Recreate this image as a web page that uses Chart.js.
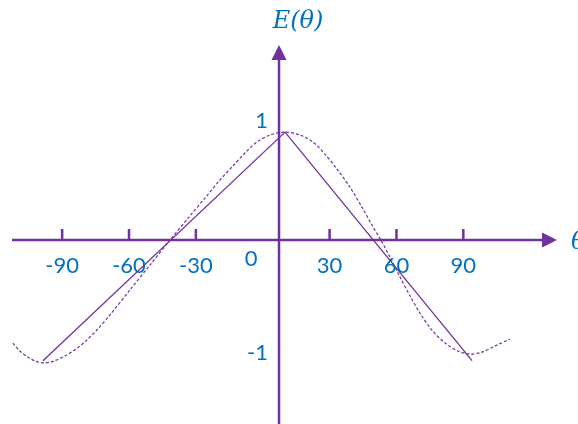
<!DOCTYPE html>
<html>
<head>
<meta charset="utf-8">
<script src="https://cdn.jsdelivr.net/npm/chart.js"></script>
<style>
  body { margin: 0; background: #fff; }
  #wrap { width: 578px; height: 424px; }
</style>
</head>
<body>
<div id="wrap"><canvas id="chart" width="578" height="424"></canvas></div>
<script>
// theta in degrees, E(theta)
const triangleTheta = [-98.6, 10.0, 93.9];
const triangleE = [-1.04, 0.93, -1.04];

const cosTheta = [-112.1, -109.0, -105.4, -102.2, -98.2, -93.7, -88.8, -83.8, -78.9, -74.0,
  -68.6, -59.6, -50.6, -41.6, -32.7, -25.9, -19.2, -13.4, -8.0, -2.6, 3.2, 10.0,
  16.7, 22.5, 27.9, 33.3, 39.1, 44.5, 49.0, 53.0, 57.1, 61.6, 66.1, 70.5, 75.9,
  81.8, 87.6, 93.0, 98.4, 104.2, 110.9];
const cosE = [-0.888, -0.957, -1.009, -1.043, -1.06, -1.043, -1.0, -0.94, -0.862, -0.767,
  -0.647, -0.431, -0.216, 0, 0.207, 0.362, 0.517, 0.638, 0.75, 0.845, 0.905, 0.931,
  0.905, 0.845, 0.741, 0.612, 0.457, 0.284, 0.129, 0, -0.147, -0.319, -0.483, -0.629, -0.776,
  -0.888, -0.957, -0.983, -0.966, -0.914, -0.853];

const xTickValues = [-90, -60, -30, 30, 60, 90];
const xTickLabels = ["-90", "-60", "-30", "30", "60", "90"];
const yTickValues = [1, -1];
const yTickLabels = ["1", "-1"];
const originLabel = "0";
const yAxisAt = 7.3; // the vertical axis sits a little right of 0 in the drawing

const PURPLE = "#7030A0";
const BLUE = "#0070C0";

const toPoints = (xs, ys) => xs.map((v, i) => ({ x: v, y: ys[i] }));

// axes with arrows, tick marks and all the text
const axesPlugin = {
  id: "axes",
  beforeDatasetsDraw(chart) {
    const { ctx, chartArea, scales: { x, y } } = chart;
    const x0 = x.getPixelForValue(yAxisAt);
    const y0 = y.getPixelForValue(0);
    ctx.save();
    ctx.strokeStyle = PURPLE;
    ctx.fillStyle = PURPLE;
    ctx.lineWidth = 2.5;
    ctx.beginPath();
    ctx.moveTo(chartArea.left, y0);
    ctx.lineTo(chartArea.right, y0);
    ctx.moveTo(x0, chartArea.bottom);
    ctx.lineTo(x0, chartArea.top);
    xTickValues.forEach((v) => {
      const px = x.getPixelForValue(v);
      ctx.moveTo(px, y0);
      ctx.lineTo(px, y0 - 11);
    });
    ctx.stroke();

    ctx.beginPath();
    ctx.moveTo(chartArea.right + 15, y0);
    ctx.lineTo(chartArea.right, y0 - 7.5);
    ctx.lineTo(chartArea.right, y0 + 7.5);
    ctx.closePath();
    ctx.moveTo(x0, chartArea.top - 15);
    ctx.lineTo(x0 - 7.5, chartArea.top);
    ctx.lineTo(x0 + 7.5, chartArea.top);
    ctx.closePath();
    ctx.fill();
    ctx.restore();
  },
  afterDraw(chart) {
    const { ctx, chartArea, scales: { x, y } } = chart;
    const x0 = x.getPixelForValue(yAxisAt);
    const y0 = y.getPixelForValue(0);
    ctx.save();
    ctx.fillStyle = BLUE;
    ctx.font = "22px Lato";
    ctx.textAlign = "center";
    ctx.textBaseline = "middle";
    xTickValues.forEach((v, i) => {
      ctx.fillText(xTickLabels[i], x.getPixelForValue(v), y0 + 26);
    });
    ctx.fillText(originLabel, x0 - 28, y0 + 19);

    ctx.textAlign = "right";
    yTickValues.forEach((v, i) => {
      ctx.fillText(yTickLabels[i], x0 - 11, y.getPixelForValue(v) - 3);
    });

    ctx.font = "italic 24px 'DejaVu Serif'";
    ctx.textAlign = "center";
    ctx.fillText("E(\u03B8)", x0 + 19, 22);
    ctx.textAlign = "left";
    ctx.fillText("\u03B8", chartArea.right + 29, y0 + 3);
    ctx.restore();
  },
};

new Chart(document.getElementById("chart"), {
  type: "scatter",
  data: {
    datasets: [
      {
        label: "triangle",
        data: toPoints(triangleTheta, triangleE),
        showLine: true,
        borderColor: PURPLE,
        borderWidth: 1.3,
        pointRadius: 0,
        tension: 0,
        clip: false,
      },
      {
        label: "cos",
        data: toPoints(cosTheta, cosE),
        showLine: true,
        borderColor: PURPLE,
        borderWidth: 1.2,
        borderDash: [3, 2],
        pointRadius: 0,
        tension: 0.3,
        clip: false,
      },
    ],
  },
  options: {
    responsive: false,
    animation: false,
    events: [],
    layout: { padding: { left: 12, right: 36, top: 60, bottom: 0 } },
    plugins: { legend: { display: false }, tooltip: { enabled: false } },
    scales: {
      x: { type: "linear", min: -112.5, max: 125.3, display: false },
      y: { type: "linear", min: -1.586, max: 1.552, display: false },
    },
  },
  plugins: [axesPlugin],
});
</script>
</body>
</html>
